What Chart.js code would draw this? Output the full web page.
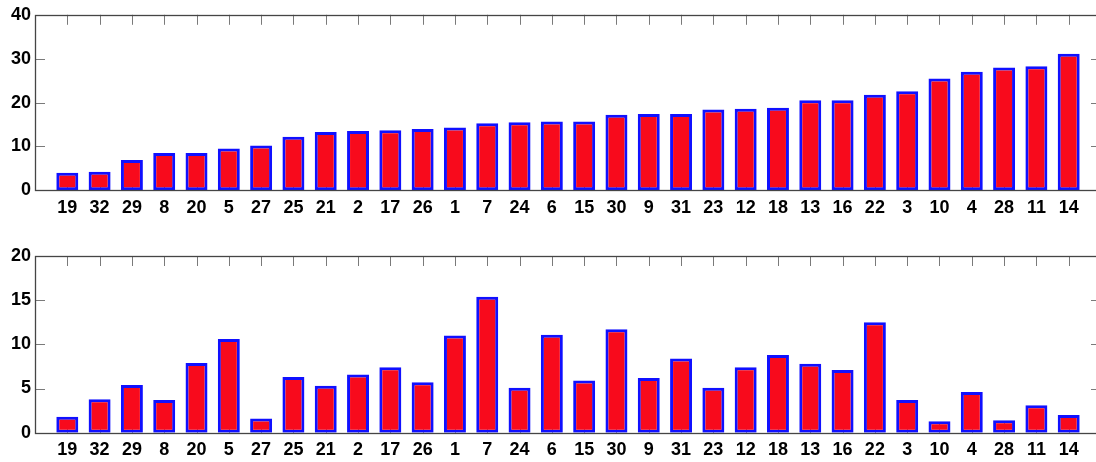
<!DOCTYPE html>
<html>
<head>
<meta charset="utf-8">
<title>Bar charts</title>
<script src="https://cdn.jsdelivr.net/npm/chart.js@4/dist/chart.umd.min.js"></script>
<style>
  html, body { margin: 0; padding: 0; background: #fff; overflow: hidden; width: 1096px; height: 462px; }
  canvas { position: absolute; left: 0; }
  #topChart { top: 0; }
  #bottomChart { top: 240px; }
</style>
</head>
<body>
<canvas id="topChart" width="1101" height="232"></canvas>
<canvas id="bottomChart" width="1101" height="222"></canvas>
<script>
// Category order shared by both panels
const categories = ['19','32','29','8','20','5','27','25','21','2','17','26','1','7','24','6',
                    '15','30','9','31','23','12','18','13','16','22','3','10','4','28','11','14'];

// Upper panel values (sorted ascending)
const upperValues = [4.0, 4.2, 6.9, 8.5, 8.5, 9.5, 10.2, 12.2, 13.3, 13.5, 13.7, 14.0, 14.3, 15.3, 15.5, 15.7,
                     15.7, 17.2, 17.4, 17.4, 18.4, 18.6, 18.8, 20.5, 20.5, 21.8, 22.6, 25.5, 27.0, 28.0, 28.3, 31.1];

// Lower panel values, same category order
const lowerValues = [1.8, 3.8, 5.4, 3.7, 7.9, 10.6, 1.6, 6.3, 5.3, 6.6, 7.4, 5.7, 11.0, 15.4, 5.1, 11.1,
                     5.9, 11.7, 6.2, 8.4, 5.1, 7.4, 8.8, 7.8, 7.1, 12.5, 3.7, 1.3, 4.6, 1.4, 3.1, 2.0];

// Y-axis tick labels
const upperTicks = [0, 10, 20, 30, 40];
const lowerTicks = [0, 5, 10, 15, 20];

Chart.defaults.font.family = "'Liberation Sans', Arial, Helvetica, sans-serif";
Chart.defaults.font.weight = 'bold';
Chart.defaults.font.size = 18;
Chart.defaults.color = '#000';

// Box outline with inward tick marks on all four sides
const boxPlugin = {
  id: 'boxAxes',
  beforeDatasetsDraw(chart) {
    const { ctx, chartArea: a, scales: { x, y } } = chart;
    const len = 10;
    ctx.save();
    ctx.strokeStyle = '#7a7a7a';
    ctx.lineWidth = 1;
    ctx.beginPath();
    x.ticks.forEach(t => {
      const px = Math.round(x.getPixelForValue(t.value)) + 0.5;
      ctx.moveTo(px, a.top); ctx.lineTo(px, a.top + len);
      ctx.moveTo(px, a.bottom); ctx.lineTo(px, a.bottom - len);
    });
    y.ticks.forEach(t => {
      const py = Math.round(y.getPixelForValue(t.value)) + 0.5;
      ctx.moveTo(a.left, py); ctx.lineTo(a.left + len, py);
      ctx.moveTo(a.right, py); ctx.lineTo(a.right - len, py);
    });
    ctx.stroke();
    ctx.restore();
  },
  afterDatasetsDraw(chart) {
    const { ctx, chartArea: a } = chart;
    ctx.save();
    ctx.strokeStyle = '#454545';
    ctx.lineWidth = 1.3;
    const l = Math.round(a.left) + 0.5, r = Math.round(a.right) - 0.5;
    const t = Math.round(a.top) + 0.5, b = Math.round(a.bottom) + 0.5;
    ctx.strokeRect(l, t, r - l, b - t);
    ctx.restore();
  }
};

function makePanel(canvasId, values, yTicks, chartTop, chartBottom, canvasHeight) {
  const points = values.map((v, i) => ({ x: i + 1, y: v }));
  const yMax = yTicks[yTicks.length - 1];
  const yStep = yTicks[1] - yTicks[0];
  return new Chart(document.getElementById(canvasId), {
    type: 'bar',
    data: {
      datasets: [{
        data: points,
        backgroundColor: '#f80a1c',
        borderColor: '#1010ff',
        borderWidth: 3,
        borderSkipped: false,
        barPercentage: 0.68,
        categoryPercentage: 1.0
      }]
    },
    options: {
      responsive: false,
      animation: false,
      devicePixelRatio: 1,
      layout: { padding: { top: chartTop, left: 0, right: 0, bottom: 0 } },
      plugins: { legend: { display: false }, tooltip: { enabled: false } },
      scales: {
        x: {
          type: 'linear',
          offset: false,
          min: 0,
          max: categories.length + 1,
          grid: { display: false, drawTicks: false, offset: false },
          border: { display: false },
          afterBuildTicks: s => { s.ticks = categories.map((c, i) => ({ value: i + 1 })); },
          afterFit: s => { s.height = canvasHeight - chartBottom; },
          ticks: {
            autoSkip: false,
            maxRotation: 0,
            padding: 7,
            callback: v => categories[v - 1]
          }
        },
        y: {
          min: 0,
          max: yMax,
          grid: { display: false, drawTicks: false },
          border: { display: false },
          afterBuildTicks: s => { s.ticks = yTicks.map(v => ({ value: v })); },
          afterFit: s => { s.width = 35; },
          ticks: { stepSize: yStep, padding: 4 }
        }
      }
    },
    plugins: [boxPlugin]
  });
}

makePanel('topChart', upperValues, upperTicks, 14, 190.3, 232);
makePanel('bottomChart', lowerValues, lowerTicks, 16, 192.7, 222);
</script>
</body>
</html>
